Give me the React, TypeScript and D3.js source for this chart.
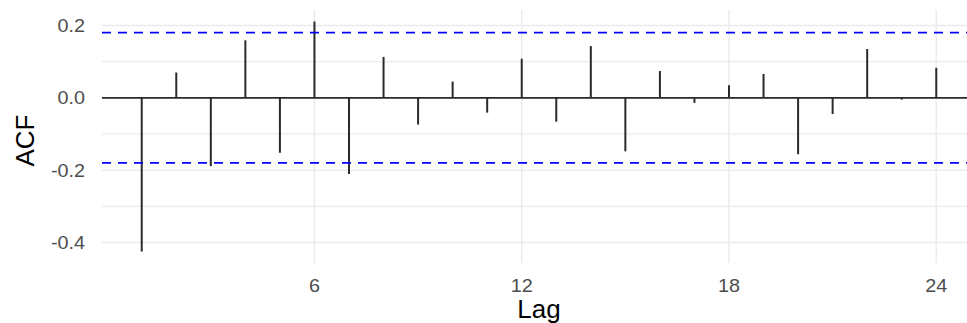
import React from 'react';
import * as d3 from 'd3';

const width = 967;
const height = 323;
const margin = { top: 10, right: -9, bottom: 60, left: 102 };

// autocorrelation by lag
const lags = [1, 2, 3, 4, 5, 6, 7, 8, 9, 10, 11, 12, 13, 14, 15, 16, 17, 18, 19, 20, 21, 22, 23, 24];
const acf = [
  -0.425, 0.07, -0.189, 0.159, -0.152, 0.211, -0.211, 0.113, -0.074, 0.045, -0.041, 0.108,
  -0.066, 0.143, -0.148, 0.074, -0.014, 0.035, 0.066, -0.156, -0.045, 0.135, -0.005, 0.083,
];
const ciBound = 0.18;
const xTicks = [6, 12, 18, 24];
const yTicks = [0.2, 0, -0.2, -0.4];
const yMinor = [0.1, -0.1, -0.3];

// plain hyphen for negatives, like R prints them
const fmt = (v: number) => v.toFixed(1);

export default function App() {
  // ggplot style expansion: 5% each side
  const xExt = d3.extent(lags) as [number, number];
  const xPad = (xExt[1] - xExt[0]) * 0.05;
  const xScale = d3.scaleLinear()
    .domain([xExt[0] - xPad, xExt[1] + xPad])
    .range([margin.left, width - margin.right]);

  const yLo = Math.min(d3.min(acf) as number, -ciBound, 0);
  const yHi = Math.max(d3.max(acf) as number, ciBound, 0);
  const yPad = (yHi - yLo) * 0.05;
  const yScale = d3.scaleLinear()
    .domain([yLo - yPad, yHi + yPad])
    .range([height - margin.bottom, margin.top]);

  const [x0, x1] = xScale.range();
  const [y0, y1] = yScale.range();
  const grid = '#ebebeb';
  const tickColor = '#4d4d4d';

  return (
    <svg
      width={width}
      height={height}
      style={{ position: 'absolute', left: 0, top: 0, background: '#fff' }}
      fontFamily="'Liberation Sans', Arial, sans-serif"
    >
      {/* minor y grid */}
      {yMinor.map((t) => (
        <line key={`ym${t}`} x1={x0} x2={x1} y1={yScale(t)} y2={yScale(t)} stroke={grid} strokeWidth={1.2} />
      ))}
      {/* major y grid */}
      {yTicks.map((t) => (
        <line key={`yM${t}`} x1={x0} x2={x1} y1={yScale(t)} y2={yScale(t)} stroke={grid} strokeWidth={1.5} />
      ))}
      {/* major x grid */}
      {xTicks.map((t) => (
        <line key={`xM${t}`} x1={xScale(t)} x2={xScale(t)} y1={y0} y2={y1} stroke={grid} strokeWidth={1.5} />
      ))}

      {/* zero line */}
      <line x1={x0} x2={x1} y1={yScale(0)} y2={yScale(0)} stroke="#2b2b2b" strokeWidth={1.8} />

      {/* spikes */}
      {lags.map((lag, i) => (
        <line
          key={lag}
          x1={xScale(lag)}
          x2={xScale(lag)}
          y1={yScale(0)}
          y2={yScale(acf[i])}
          stroke="#2b2b2b"
          strokeWidth={2}
        />
      ))}

      {/* confidence bounds */}
      {[ciBound, -ciBound].map((c) => (
        <line
          key={`ci${c}`}
          x1={x0}
          x2={x1}
          y1={yScale(c)}
          y2={yScale(c)}
          stroke="#0000ff"
          strokeWidth={1.8}
          strokeDasharray="9,7"
        />
      ))}

      {/* y tick labels */}
      {yTicks.map((t) => (
        <text
          key={`yl${t}`}
          transform={`translate(85, ${yScale(t) + 6.5}) scale(1.1,1)`}
          textAnchor="end"
          fontSize={18}
          fill={tickColor}
        >
          {fmt(t)}
        </text>
      ))}

      {/* x tick labels */}
      {xTicks.map((t) => (
        <text
          key={`xl${t}`}
          transform={`translate(${xScale(t)}, 292) scale(1.1,1)`}
          textAnchor="middle"
          fontSize={18}
          fill={tickColor}
        >
          {t}
        </text>
      ))}

      {/* axis titles */}
      <text x={(x0 + x1) / 2} y={318} textAnchor="middle" fontSize={26} fill="#000">
        Lag
      </text>
      <text
        transform={`translate(34, ${(y0 + y1) / 2 + 4}) rotate(-90)`}
        textAnchor="middle"
        fontSize={26}
        fill="#000"
      >
        ACF
      </text>
    </svg>
  );
}
